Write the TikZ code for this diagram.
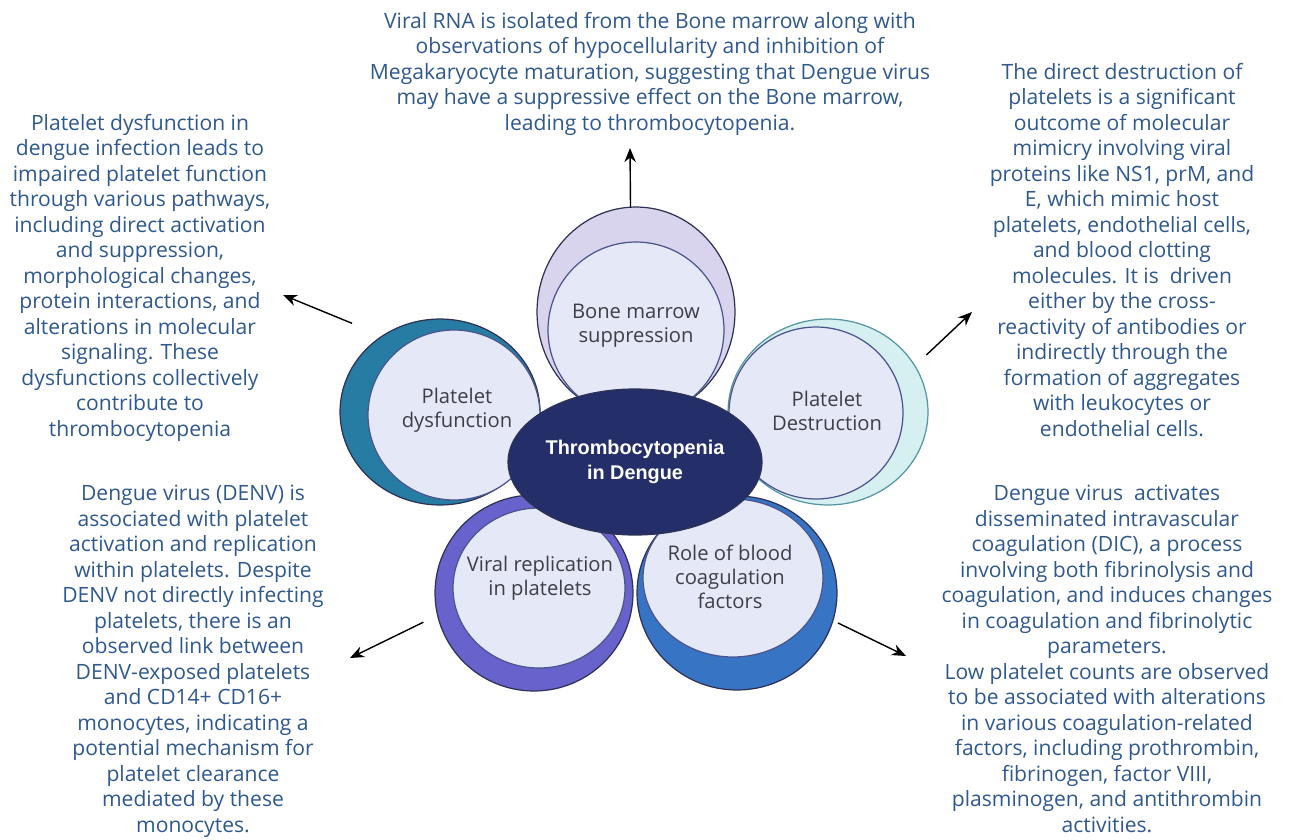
\documentclass[tikz,border=0pt]{standalone}
\usepackage{fontspec}
\setmainfont{Open Sans}
\newfontfamily\hubfont{Liberation Sans}
\usepackage{tikz}
\usetikzlibrary{shapes.geometric}
\usetikzlibrary{arrows.meta}

\definecolor{txtblue}{RGB}{47,88,140}
\definecolor{lblgray}{RGB}{62,62,70}
\definecolor{petalline}{RGB}{45,50,85}
\definecolor{innerline}{RGB}{75,85,140}
\definecolor{innerfill}{RGB}{229,232,247}
\definecolor{hubfill}{RGB}{36,47,105}
\definecolor{bmfill}{RGB}{216,212,237}
\definecolor{pdfill}{RGB}{38,124,163}
\definecolor{ddfill}{RGB}{214,239,241}
\definecolor{ddline}{RGB}{85,150,160}
\definecolor{vrfill}{RGB}{104,98,204}
\definecolor{bcfill}{RGB}{56,116,196}

\begin{document}
\begin{tikzpicture}[x=0.02cm,y=-0.02cm]
      \tikzstyle{dedge} = [-{Stealth[length=8pt,width=6.5pt]},line width=0.8pt,draw=black]
      \tikzstyle{outer}=[
        ellipse,
        draw=petalline,
        line width=0.7pt,
        inner sep=0pt,
        outer sep=0pt,
      ]
      \tikzstyle{inner}=[outer, draw=innerline, fill=innerfill]
      \tikzstyle{lbl}=[text=lblgray, align=center, font=\fontsize{11.5}{13.6}\selectfont]
      \tikzstyle{desc}=[align=center, inner sep=0pt, anchor=north, text=txtblue,
        font=\fontsize{12}{14.5}\selectfont]
      \useasboundingbox (0,0) rectangle (1292,839);

      % petals
      \node[outer, fill=vrfill, minimum width=3.96cm, minimum height=3.92cm] (vro) at (534,593) {};
      \node[inner, minimum width=3.44cm, minimum height=3.2cm] (vri) at (539,588) {};
      \node[outer, fill=bcfill, minimum width=4cm, minimum height=3.88cm] (bco) at (737,593) {};
      \node[inner, minimum width=3.6cm, minimum height=3.16cm] (bci) at (733,578) {};
      \node[outer, fill=pdfill, minimum width=4cm, minimum height=3.72cm] (pdo) at (440,412) {};
      \node[inner, minimum width=3.44cm, minimum height=3.4cm] (pdi) at (454,415) {};
      \node[outer, fill=ddfill, draw=ddline, minimum width=4cm, minimum height=3.72cm] (ddo) at (828,412) {};
      \node[inner, minimum width=3.48cm, minimum height=3.44cm] (ddi) at (816,413) {};
      \node[outer, fill=bmfill, minimum width=3.96cm, minimum height=4.2cm] (bmo) at (636,312) {};
      \node[inner, minimum width=3.52cm, minimum height=3.52cm] (bmi) at (636,330) {};

      % petal labels
      \node[lbl] (bm) at (636,326) {Bone marrow\\suppression};
      \node[lbl] (pd) at (457,410) {Platelet\\dysfunction};
      \node[lbl] (dd) at (827,411) {Platelet\\Destruction};
      \node[lbl] (vr) at (540,578) {Viral replication\\in platelets};
      \node[lbl] (bc) at (730,577) {Role of blood\\coagulation\\factors};

      % hub
      \node[ellipse, fill=hubfill, draw=petalline, line width=0.7pt, inner sep=0pt,
        minimum width=5.08cm, minimum height=2.92cm, text=white, align=center,
        font=\hubfont\bfseries\fontsize{11.3}{14.2}\selectfont] (th) at (635,462)
        {Thrombocytopenia\\in Dengue};

      % descriptions
      \node[desc] (t-bm) at (650,12) {Viral RNA is isolated from the Bone marrow along with\\
        observations of hypocellularity and inhibition of\\
        Megakaryocyte maturation, suggesting that Dengue virus\\
        may have a suppressive effect on the Bone marrow,\\
        leading to thrombocytopenia.};
      \node[desc] (t-pd) at (140,114) {Platelet dysfunction in\\
        dengue infection leads to\\
        impaired platelet function\\
        through various pathways,\\
        including direct activation\\
        and suppression,\\
        morphological changes,\\
        protein interactions, and\\
        alterations in molecular\\
        signaling. These\\
        dysfunctions collectively\\
        contribute to\\
        thrombocytopenia};
      \node[desc] (t-dd) at (1122,63) {The direct destruction of\\
        platelets is a significant\\
        outcome of molecular\\
        mimicry involving viral\\
        proteins like NS1, prM, and\\
        E, which mimic host\\
        platelets, endothelial cells,\\
        and blood clotting\\
        molecules. It is~ driven\\
        either by the cross-\\
        reactivity of antibodies or\\
        indirectly through the\\
        formation of aggregates\\
        with leukocytes or\\
        endothelial cells.};
      \node[desc] (t-vr) at (193,485) {Dengue virus (DENV) is\\
        associated with platelet\\
        activation and replication\\
        within platelets. Despite\\
        DENV not directly infecting\\
        platelets, there is an\\
        observed link between\\
        DENV-exposed platelets\\
        and CD14+ CD16+\\
        monocytes, indicating a\\
        potential mechanism for\\
        platelet clearance\\
        mediated by these\\
        monocytes.};
      \node[desc] (t-bc) at (1107,485) {Dengue virus~ activates\\
        disseminated intravascular\\
        coagulation (DIC), a process\\
        involving both fibrinolysis and\\
        coagulation, and induces changes\\
        in coagulation and fibrinolytic\\
        parameters.\\
        Low platelet counts are observed\\
        to be associated with alterations\\
        in various coagulation-related\\
        factors, including prothrombin,\\
        fibrinogen, factor VIII,\\
        plasminogen, and antithrombin\\
        activities.};

      % arrows
      \coordinate (bm-tip) at (630,148);
      \coordinate (pd-tip) at (283,295);
      \coordinate (dd-tip) at (972,312);
      \coordinate (vr-tip) at (350,658);
      \coordinate (bc-tip) at (906,656);
      \draw[dedge] (bmo.93) -- (bm-tip);
      \draw[dedge, shorten <=18.8pt] (pdo.127) -- (pd-tip);
      \draw[dedge, shorten <=9pt] (ddo.28) -- (dd-tip);
      \draw[dedge, shorten <=9pt] (vro.193) -- (vr-tip);
      \draw[dedge, shorten <=3.2pt] (bco.-16) -- (bc-tip);
    \end{tikzpicture}
\end{document}
